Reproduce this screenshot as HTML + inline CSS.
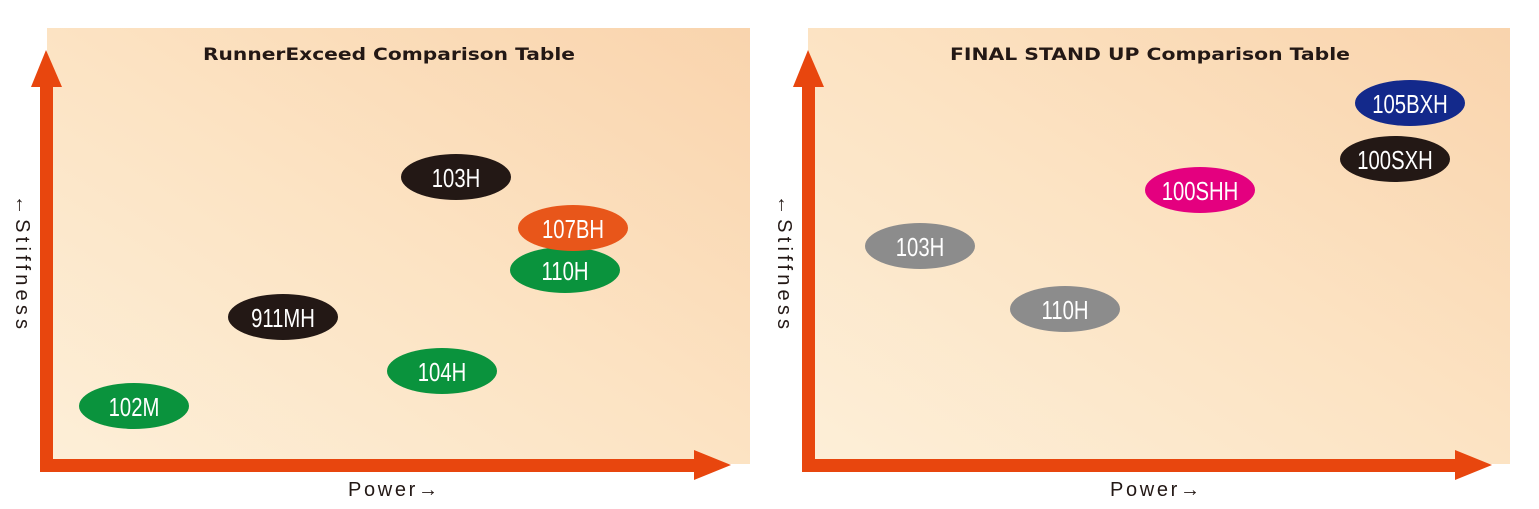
<!DOCTYPE html>
<html><head><meta charset="utf-8"><style>
html,body{margin:0;padding:0;background:#fff;}
svg{display:block;}
.l{font-family:"Liberation Sans",sans-serif;font-size:26px;fill:#fff;}
.t{font-family:"DejaVu Sans","Liberation Sans",sans-serif;font-size:17px;font-weight:bold;fill:#231815;}
.a{font-family:"Liberation Sans",sans-serif;font-size:20px;fill:#231815;}
</style></head><body>
<svg width="1539" height="509" viewBox="0 0 1539 509" xmlns="http://www.w3.org/2000/svg">
<defs>
<linearGradient id="g" x1="0" y1="1" x2="1" y2="0">
<stop offset="0" stop-color="#fdefd8"/><stop offset="0.5" stop-color="#fce3c3"/><stop offset="1" stop-color="#f9d4ad"/>
</linearGradient>
</defs>
<rect x="47" y="28" width="703" height="436" fill="url(#g)"/>
<rect x="808" y="28" width="702" height="436" fill="url(#g)"/>
<rect x="40" y="85" width="13" height="387" fill="#e8460e"/>
<polygon points="46,50 31,87 62,87" fill="#e8460e"/>
<rect x="40" y="459" width="660" height="13" fill="#e8460e"/>
<polygon points="731,465 694,450 694,480" fill="#e8460e"/>
<rect x="802" y="85" width="13" height="387" fill="#e8460e"/>
<polygon points="808,50 793,87 824,87" fill="#e8460e"/>
<rect x="802" y="459" width="656" height="13" fill="#e8460e"/>
<polygon points="1492,465 1455,450 1455,480" fill="#e8460e"/>
<text class="t" x="203" y="60" textLength="372" lengthAdjust="spacingAndGlyphs">RunnerExceed Comparison Table</text>
<text class="t" x="950" y="60" textLength="400" lengthAdjust="spacingAndGlyphs">FINAL STAND UP Comparison Table</text>
<text class="a" transform="translate(16,195) rotate(90)" textLength="134" lengthAdjust="spacing">←Stiffness</text>
<text class="a" transform="translate(778,195) rotate(90)" textLength="134" lengthAdjust="spacing">←Stiffness</text>
<text class="a" x="348" y="496" textLength="90" lengthAdjust="spacing">Power→</text>
<text class="a" x="1110" y="496" textLength="90" lengthAdjust="spacing">Power→</text>
<g>
<ellipse cx="456" cy="177" rx="55" ry="23" fill="#231815"/>
<ellipse cx="565" cy="270" rx="55" ry="23" fill="#0a933d"/>
<ellipse cx="573" cy="228" rx="55" ry="23" fill="#e8561a"/>
<ellipse cx="283" cy="317" rx="55" ry="23" fill="#231815"/>
<ellipse cx="442" cy="371" rx="55" ry="23" fill="#0a933d"/>
<ellipse cx="134" cy="406" rx="55" ry="23" fill="#0a933d"/>
<ellipse cx="1410" cy="103" rx="55" ry="23" fill="#13298b"/>
<ellipse cx="1395" cy="159" rx="55" ry="23" fill="#231815"/>
<ellipse cx="1200" cy="190" rx="55" ry="23" fill="#e4007f"/>
<ellipse cx="920" cy="246" rx="55" ry="23" fill="#8c8c8c"/>
<ellipse cx="1065" cy="309" rx="55" ry="23" fill="#8c8c8c"/>
</g>
<g class="l" text-anchor="middle">
<text transform="translate(456,187) scale(0.78,1)">103H</text>
<text transform="translate(565,280) scale(0.78,1)">110H</text>
<text transform="translate(573,238) scale(0.78,1)">107BH</text>
<text transform="translate(283,327) scale(0.78,1)">911MH</text>
<text transform="translate(442,381) scale(0.78,1)">104H</text>
<text transform="translate(134,416) scale(0.78,1)">102M</text>
<text transform="translate(1410,113) scale(0.78,1)">105BXH</text>
<text transform="translate(1395,169) scale(0.78,1)">100SXH</text>
<text transform="translate(1200,200) scale(0.78,1)">100SHH</text>
<text transform="translate(920,256) scale(0.78,1)">103H</text>
<text transform="translate(1065,319) scale(0.78,1)">110H</text>
</g>
</svg>
</body></html>
